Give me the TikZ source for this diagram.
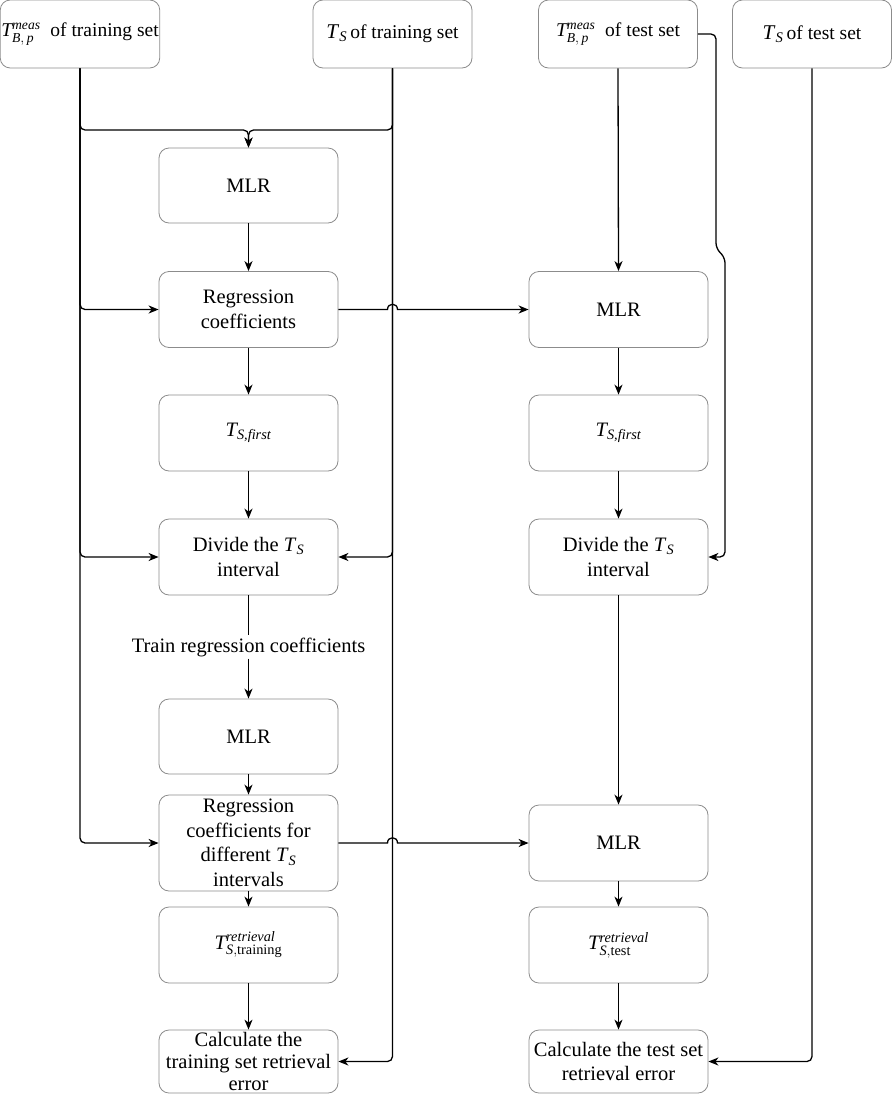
\documentclass[tikz,border=0pt]{standalone}
\usepackage{amsmath}
\usepackage{fontspec}
\setmainfont{Liberation Serif}
\usetikzlibrary{arrows.meta}
\newcommand{\ts}{\textit{T}$_{\textit{S}}$}
\newcommand{\tsb}{{\fontsize{21}{24}\selectfont\textit{T}$_{\textit{S}}$}}
\begin{document}
\begin{tikzpicture}[x=1pt,y=-1pt,
  font=\fontsize{20.5}{24.5}\selectfont,
  box/.style={draw=black!45, line width=0.8pt, rounded corners=10pt, align=center,
    minimum width=179pt, minimum height=76pt, inner sep=1pt},
  topbox/.style={box, minimum width=159pt, minimum height=68pt, font=\fontsize{19.5}{24}\selectfont},
  arr/.style={-{Stealth[length=10pt,width=8pt,inset=3pt]}, line width=1.3pt, rounded corners=5pt},
  ln/.style={line width=1.3pt, rounded corners=5pt}]
\useasboundingbox (0,0) rectangle (892,1095);
% top row
\node[topbox] (A) at (80,34) {$\textit{T}^{\textit{meas}}_{\textit{B},\,\textit{p}}$\ \ of training set};
\node[topbox] (B) at (392.5,34) {\tsb\,of training set};
\node[topbox] (C) at (618,34) {$\textit{T}^{\textit{meas}}_{\textit{B},\,\textit{p}}$\ \ of test set};
\node[topbox] (D) at (812,34) {\tsb\,of test set};
% left column
\node[box, minimum height=75pt] (mlr1) at (248.5,185.5) {MLR};
\node[box] (reg1) at (248.5,309.5) {Regression\\coefficients};
\node[box] (tf1) at (248.5,433) {$\textit{T}_{\textit{S,first}}$};
\node[box] (div1) at (248.5,557) {Divide the \ts\\interval};
\node[inner sep=2pt] (lbl) at (248.5,647) {Train regression coefficients};
\node[box, minimum height=75pt] (mlr3) at (248.5,736.5) {MLR};
\node[box, minimum height=96pt] (reg2) at (248.5,843) {Regression\\coefficients for\\different \ts\\intervals};
\node[box] (tr1) at (248.5,945) {$\textit{T}^{\textit{retrieval}}_{\textit{S},\text{training}}$};
\node[box, minimum height=63pt, font=\fontsize{20.5}{22}\selectfont] (calc1) at (248.5,1061.5) {Calculate the\\training set retrieval\\error};
% right column
\node[box] (mlr2) at (618.5,309.5) {MLR};
\node[box] (tf2) at (618.5,433) {$\textit{T}_{\textit{S,first}}$};
\node[box] (div2) at (618.5,557) {Divide the \ts\\interval};
\node[box] (mlr4) at (618.5,843) {MLR};
\node[box] (tr2) at (618.5,945) {$\textit{T}^{\textit{retrieval}}_{\textit{S},\text{test}}$};
\node[box, minimum height=63pt] (calc2) at (618.5,1061.5) {Calculate the test set\\retrieval error};
% merge into first MLR
\coordinate (mA) at (80,130);
\coordinate (mB) at (392.5,130);
\coordinate (mC) at (248.5,130);
\draw[arr] (A.south) -- (mA) -- (mC) -- (mlr1.north);
\draw[arr] (B.south) -- (mB) -- (mC) -- (mlr1.north);
% left feeders
\draw[arr] (A.south) |- (reg1.west);
\draw[arr] (A.south) |- (div1.west);
\draw[arr] (A.south) |- (reg2.west);
\draw[arr] (B.south) |- (div1.east);
\draw[arr] (B.south) |- (calc1.east);
% left chain
\draw[arr] (mlr1) -- (reg1);
\draw[arr] (reg1) -- (tf1);
\draw[arr] (tf1) -- (div1);
\draw[ln] (div1.south) -- (lbl.north);
\draw[arr] (lbl.south) -- (mlr3.north);
\draw[arr] (mlr3) -- (reg2);
\draw[arr] (reg2) -- (tr1);
\draw[arr] (tr1) -- (calc1);
% cross links with jumps
\coordinate (j1a) at (387.5,309.5);
\coordinate (j1b) at (397.5,309.5);
\draw[arr, sharp corners] (reg1.east) -- (j1a) .. controls (387.5,302.5) and (397.5,302.5) .. (j1b) -- (mlr2.west);
\coordinate (j2a) at (387.5,843);
\coordinate (j2b) at (397.5,843);
\draw[arr, sharp corners] (reg2.east) -- (j2a) .. controls (387.5,836) and (397.5,836) .. (j2b) -- (mlr4.west);
% right chain
\draw[arr] (C.south) -- (mlr2.north);
\draw[arr] (mlr2) -- (tf2);
\draw[arr] (tf2) -- (div2);
\draw[arr] (div2) -- (mlr4);
\draw[arr] (mlr4) -- (tr2);
\draw[arr] (tr2) -- (calc2);
% C side line to divide
\coordinate (c1) at (716,34);
\coordinate (c2) at (716,248);
\coordinate (c3) at (725,258);
\coordinate (c4) at (725,557);
\draw[arr] (C.east) -- (c1) -- (c2) -- (c3) -- (c4) -- (div2.east);
% D to calc
\draw[arr] (D.south) |- (calc2.east);
\end{tikzpicture}
\end{document}
